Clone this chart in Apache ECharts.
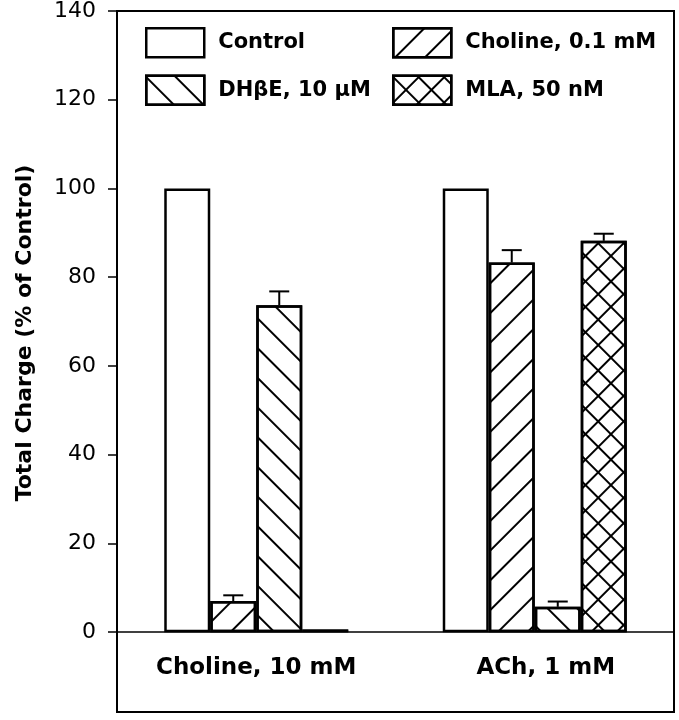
<!DOCTYPE html>
<html>
<head>
<meta charset="utf-8">
<script src="https://cdn.jsdelivr.net/npm/echarts@6/dist/echarts.min.js"></script>
<style>
html,body{margin:0;padding:0;background:#fff;}
#chart{width:679px;height:720px;}
</style>
</head>
<body>
<div id="chart"></div>
<script>
const categories = ['Choline, 10 mM', 'ACh, 1 mM'];
const seriesNames = ['Control', 'Choline, 0.1 mM', 'DHβE, 10 μM', 'MLA, 50 nM'];
const controlVals = [100, 100];
const cholineVals = [7.0, 83.3];
const dhbeVals = [73.7, 5.7];
const mlaVals = [0.6, 88.2];
const controlErr = [0, 0];
const cholineErr = [1.3, 2.8];
const dhbeErr = [3.1, 1.2];
const mlaErr = [0, 1.6];
const yTicks = [0, 20, 40, 60, 80, 100, 120, 140];

const BAR_W = 46;
const FONT = 'DejaVu Sans';

const vals = [controlVals, cholineVals, dhbeVals, mlaVals];
const errs = [controlErr, cholineErr, dhbeErr, mlaErr];

const decals = [
  null,
  { symbol: 'rect', color: '#000', backgroundColor: null, dashArrayX: [1, 0], dashArrayY: [2, 19], rotation: -Math.PI / 4 },
  { symbol: 'rect', color: '#000', backgroundColor: null, dashArrayX: [1, 0], dashArrayY: [2, 19], rotation: Math.PI / 4 },
  { symbol: 'rect', color: '#000', backgroundColor: null, dashArrayX: [[18, 0], [2, 16]], dashArrayY: [2, 0, 16, 0], rotation: Math.PI / 4 }
];

const barSeries = seriesNames.map((name, i) => {
  const itemStyle = { color: '#fff', borderColor: '#000', borderWidth: 2.5 };
  if (decals[i]) itemStyle.decal = decals[i];
  const s = {
    name: name,
    type: 'bar',
    data: vals[i],
    barWidth: BAR_W,
    barGap: '0%',
    itemStyle: itemStyle,
    emphasis: { disabled: true }
  };
  if (i === 0) {
    s.markLine = {
      silent: true,
      symbol: ['none', 'none'],
      label: { show: false },
      lineStyle: { color: '#000', width: 1.5, type: 'solid' },
      data: [{ yAxis: 0 }]
    };
  }
  return s;
});

const errData = [];
vals.forEach((arr, s) => {
  arr.forEach((v, c) => { errData.push([c, s, v, errs[s][c]]); });
});

const errSeries = {
  type: 'custom',
  name: 'err',
  silent: true,
  z: 5,
  data: errData,
  encode: { x: 0, y: 2 },
  renderItem: function (params, api) {
    const cat = api.value(0), s = api.value(1), v = api.value(2), e = api.value(3);
    if (!e) return null;
    const p0 = api.coord([cat, v]);
    const p1 = api.coord([cat, v + e]);
    const x = p0[0] + (s - 1.5) * BAR_W;
    return {
      type: 'group',
      children: [
        { type: 'line', shape: { x1: x, y1: p0[1], x2: x, y2: p1[1] }, style: { stroke: '#000', lineWidth: 2 } },
        { type: 'line', shape: { x1: x - 10, y1: p1[1], x2: x + 10, y2: p1[1] }, style: { stroke: '#000', lineWidth: 2 } }
      ]
    };
  }
};

const legendCommon = {
  orient: 'vertical',
  top: 27,
  padding: 0,
  itemWidth: 58,
  itemHeight: 29,
  itemGap: 16,
  icon: 'rect',
  selectedMode: false,
  itemStyle: { borderColor: '#000', borderWidth: 2.5 },
  textStyle: { fontFamily: FONT, fontWeight: 'bold', fontSize: 21, color: '#000', padding: [0, 0, 0, 9] }
};

const chart = echarts.init(document.getElementById('chart'), null, { renderer: 'canvas' });
chart.setOption({
  animation: false,
  backgroundColor: '#fff',
  grid: { left: 117, right: 5, top: 11, bottom: 8, show: true, borderColor: '#000', borderWidth: 2, outerBoundsMode: 'none' },
  legend: [
    Object.assign({}, legendCommon, { left: 145, data: [seriesNames[0], seriesNames[2]] }),
    Object.assign({}, legendCommon, { left: 392, data: [seriesNames[1], seriesNames[3]] })
  ],
  xAxis: {
    type: 'category',
    data: categories,
    axisLine: { show: false, onZero: false },
    axisTick: { show: false },
    axisLabel: {
      inside: true,
      margin: 32,
      color: '#000',
      fontFamily: FONT,
      fontWeight: 'bold',
      fontSize: 23,
      interval: 0,
      formatter: function (v, i) { return i === 1 ? '{b|' + v + '}' : '{a|' + v + '}'; },
      rich: {
        a: { fontFamily: FONT, fontWeight: 'bold', fontSize: 23, color: '#000' },
        b: { fontFamily: FONT, fontWeight: 'bold', fontSize: 23, color: '#000', padding: [0, 0, 0, 22] }
      }
    },
    splitLine: { show: false }
  },
  yAxis: {
    type: 'value',
    min: -18,
    max: 140,
    name: 'Total Charge (% of Control)',
    nameLocation: 'middle',
    nameGap: 81,
    nameTextStyle: { fontFamily: FONT, fontWeight: 'bold', fontSize: 22, color: '#000', padding: [0, 0, 0, 57] },
    axisLine: { show: true, lineStyle: { color: '#000', width: 2 } },
    axisTick: { show: true, length: 9, inside: false, customValues: yTicks, lineStyle: { color: '#000', width: 1.5 } },
    axisLabel: { customValues: yTicks, margin: 21, color: '#000', fontFamily: FONT, fontSize: 22 },
    splitLine: { show: false }
  },
  series: barSeries.concat([errSeries])
});
</script>
</body>
</html>
